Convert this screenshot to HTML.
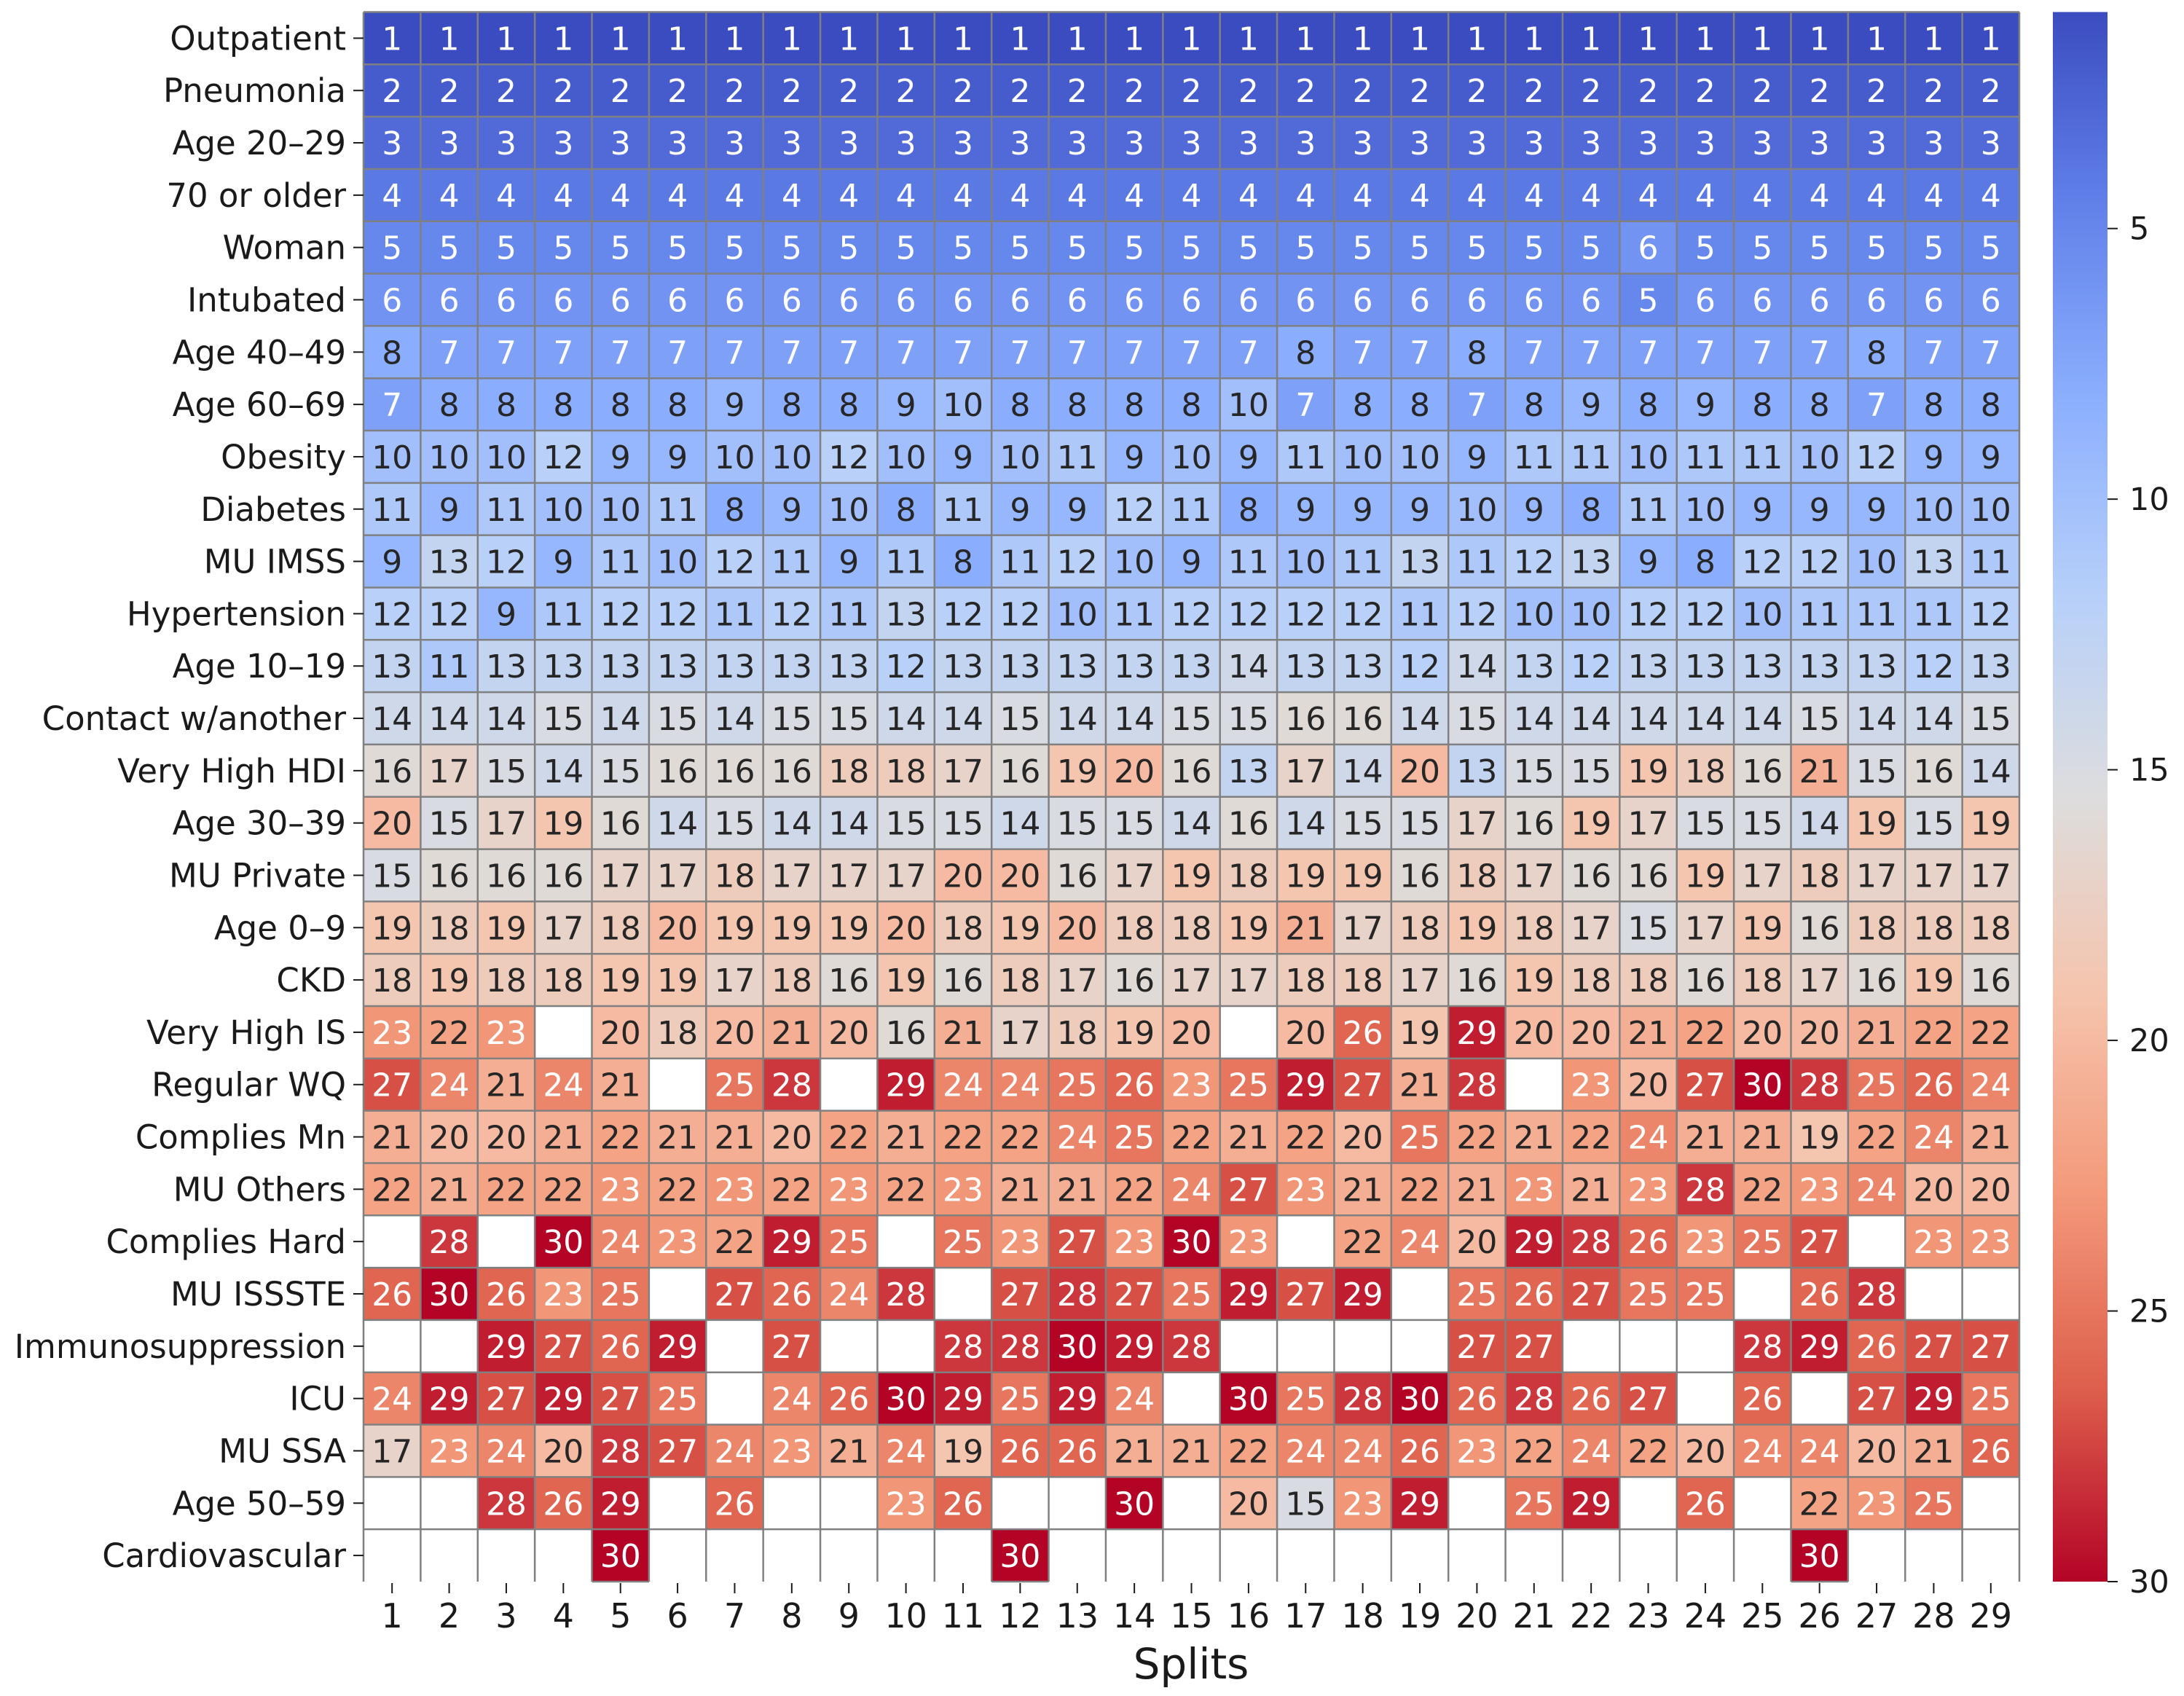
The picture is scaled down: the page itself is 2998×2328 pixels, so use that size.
<!DOCTYPE html>
<html><head><meta charset="utf-8">
<style>
html,body{margin:0;padding:0;background:#fff;}
svg{display:block;font-family:"DejaVu Sans","Liberation Sans",sans-serif;}
</style></head>
<body>
<svg id="chart" width="2998" height="2328" viewBox="0 0 2998 2328" xmlns="http://www.w3.org/2000/svg">
<defs><linearGradient id="cbgrad" x1="0" y1="0" x2="0" y2="1"></linearGradient></defs>
<g id="cells"></g>
<g id="grid"></g>
<g id="labels"></g>
<g id="yaxis"></g>
<g id="xaxis"></g>
<text x="1635" y="2304" font-size="58" text-anchor="middle" fill="#1a1a1a">Splits</text>
<g id="cbar"></g>
</svg>
<script>
const features = ["Outpatient","Pneumonia","Age 20–29","70 or older","Woman","Intubated","Age 40–49","Age 60–69","Obesity","Diabetes","MU IMSS","Hypertension","Age 10–19","Contact w/another","Very High HDI","Age 30–39","MU Private","Age 0–9","CKD","Very High IS","Regular WQ","Complies Mn","MU Others","Complies Hard","MU ISSSTE","Immunosuppression","ICU","MU SSA","Age 50–59","Cardiovascular"];
const splits = [1,2,3,4,5,6,7,8,9,10,11,12,13,14,15,16,17,18,19,20,21,22,23,24,25,26,27,28,29];
const cbTicks = [5,10,15,20,25,30];
const _ = null;
const rankOutpatient = [1,1,1,1,1,1,1,1,1,1,1,1,1,1,1,1,1,1,1,1,1,1,1,1,1,1,1,1,1];
const rankPneumonia = [2,2,2,2,2,2,2,2,2,2,2,2,2,2,2,2,2,2,2,2,2,2,2,2,2,2,2,2,2];
const rankAge2029 = [3,3,3,3,3,3,3,3,3,3,3,3,3,3,3,3,3,3,3,3,3,3,3,3,3,3,3,3,3];
const rank70plus = [4,4,4,4,4,4,4,4,4,4,4,4,4,4,4,4,4,4,4,4,4,4,4,4,4,4,4,4,4];
const rankWoman = [5,5,5,5,5,5,5,5,5,5,5,5,5,5,5,5,5,5,5,5,5,5,6,5,5,5,5,5,5];
const rankIntubated = [6,6,6,6,6,6,6,6,6,6,6,6,6,6,6,6,6,6,6,6,6,6,5,6,6,6,6,6,6];
const rankAge4049 = [8,7,7,7,7,7,7,7,7,7,7,7,7,7,7,7,8,7,7,8,7,7,7,7,7,7,8,7,7];
const rankAge6069 = [7,8,8,8,8,8,9,8,8,9,10,8,8,8,8,10,7,8,8,7,8,9,8,9,8,8,7,8,8];
const rankObesity = [10,10,10,12,9,9,10,10,12,10,9,10,11,9,10,9,11,10,10,9,11,11,10,11,11,10,12,9,9];
const rankDiabetes = [11,9,11,10,10,11,8,9,10,8,11,9,9,12,11,8,9,9,9,10,9,8,11,10,9,9,9,10,10];
const rankMuImss = [9,13,12,9,11,10,12,11,9,11,8,11,12,10,9,11,10,11,13,11,12,13,9,8,12,12,10,13,11];
const rankHypertension = [12,12,9,11,12,12,11,12,11,13,12,12,10,11,12,12,12,12,11,12,10,10,12,12,10,11,11,11,12];
const rankAge1019 = [13,11,13,13,13,13,13,13,13,12,13,13,13,13,13,14,13,13,12,14,13,12,13,13,13,13,13,12,13];
const rankContact = [14,14,14,15,14,15,14,15,15,14,14,15,14,14,15,15,16,16,14,15,14,14,14,14,14,15,14,14,15];
const rankHdi = [16,17,15,14,15,16,16,16,18,18,17,16,19,20,16,13,17,14,20,13,15,15,19,18,16,21,15,16,14];
const rankAge3039 = [20,15,17,19,16,14,15,14,14,15,15,14,15,15,14,16,14,15,15,17,16,19,17,15,15,14,19,15,19];
const rankMuPrivate = [15,16,16,16,17,17,18,17,17,17,20,20,16,17,19,18,19,19,16,18,17,16,16,19,17,18,17,17,17];
const rankAge09 = [19,18,19,17,18,20,19,19,19,20,18,19,20,18,18,19,21,17,18,19,18,17,15,17,19,16,18,18,18];
const rankCkd = [18,19,18,18,19,19,17,18,16,19,16,18,17,16,17,17,18,18,17,16,19,18,18,16,18,17,16,19,16];
const rankIs = [23,22,23,_,20,18,20,21,20,16,21,17,18,19,20,_,20,26,19,29,20,20,21,22,20,20,21,22,22];
const rankWq = [27,24,21,24,21,_,25,28,_,29,24,24,25,26,23,25,29,27,21,28,_,23,20,27,30,28,25,26,24];
const rankMn = [21,20,20,21,22,21,21,20,22,21,22,22,24,25,22,21,22,20,25,22,21,22,24,21,21,19,22,24,21];
const rankMuOthers = [22,21,22,22,23,22,23,22,23,22,23,21,21,22,24,27,23,21,22,21,23,21,23,28,22,23,24,20,20];
const rankHard = [_,28,_,30,24,23,22,29,25,_,25,23,27,23,30,23,_,22,24,20,29,28,26,23,25,27,_,23,23];
const rankIssste = [26,30,26,23,25,_,27,26,24,28,_,27,28,27,25,29,27,29,_,25,26,27,25,25,_,26,28,_,_];
const rankImmuno = [_,_,29,27,26,29,_,27,_,_,28,28,30,29,28,_,_,_,_,27,27,_,_,_,28,29,26,27,27];
const rankIcu = [24,29,27,29,27,25,_,24,26,30,29,25,29,24,_,30,25,28,30,26,28,26,27,_,26,_,27,29,25];
const rankSsa = [17,23,24,20,28,27,24,23,21,24,19,26,26,21,21,22,24,24,26,23,22,24,22,20,24,24,20,21,26];
const rankAge5059 = [_,_,28,26,29,_,26,_,_,23,26,_,_,30,_,20,15,23,29,_,25,29,_,26,_,22,23,25,_];
const rankCardio = [_,_,_,_,30,_,_,_,_,_,_,30,_,_,_,_,_,_,_,_,_,_,_,_,_,30,_,_,_];
const matrix = [rankOutpatient,rankPneumonia,rankAge2029,rank70plus,rankWoman,rankIntubated,rankAge4049,rankAge6069,rankObesity,rankDiabetes,rankMuImss,rankHypertension,rankAge1019,rankContact,rankHdi,rankAge3039,rankMuPrivate,rankAge09,rankCkd,rankIs,rankWq,rankMn,rankMuOthers,rankHard,rankIssste,rankImmuno,rankIcu,rankSsa,rankAge5059,rankCardio];
const vmin = 1, vmax = 30;

const NS = "http://www.w3.org/2000/svg";
const L = 499, R = 2772, T = 16.5, B = 2171;
const cw = (R - L) / splits.length, rh = (B - T) / features.length;
const xPos = i => L + i * cw;
const yPos = j => T + j * rh;
const cbX = 2818, cbW = 75;
const cbY = v => T + (v - vmin) / (vmax - vmin) * (B - T);

const cm = [[59,76,192],[98,130,234],[141,176,254],[184,208,249],[221,221,221],[245,196,173],[244,154,123],[222,96,77],[180,4,38]];
function cmap(t){
  t = Math.max(0, Math.min(1, t));
  const s = t * (cm.length - 1), i = Math.min(cm.length - 2, Math.floor(s)), f = s - i;
  return cm[i].map((c, k) => Math.round(c + (cm[i+1][k] - c) * f));
}
function mk(tag, attrs, parent){
  const e = document.createElementNS(NS, tag);
  for (const k in attrs) e.setAttribute(k, attrs[k]);
  parent.appendChild(e);
  return e;
}

const cells = document.getElementById('cells');
const labels = document.getElementById('labels');
matrix.forEach((row, j) => {
  row.forEach((v, i) => {
    if (v === null) return;
    const t01 = (v - vmin) / (vmax - vmin);
    const rgb = cmap(t01);
    const r = mk('rect', {x: xPos(i), y: yPos(j), width: cw, height: rh, fill: `rgb(${rgb})`}, cells);
    
    
    const light = (t01 < 0.22 || t01 > 0.74);
    const t = mk('text', {x: xPos(i) + cw / 2, y: yPos(j) + rh / 2 + 16, 'font-size': 44, 'text-anchor': 'middle', fill: light ? '#ffffff' : '#262626'}, labels);
    t.textContent = v;
    
    
  });
});

const grid = document.getElementById('grid');
for (let j = 0; j < features.length; j++) {
  mk('line', {x1: L, x2: R, y1: yPos(j), y2: yPos(j), stroke: '#808080', 'stroke-width': 2.5}, grid);
}
matrix[features.length - 1].forEach((v, i) => {
  if (v !== null) mk('line', {x1: xPos(i), x2: xPos(i+1), y1: B, y2: B, stroke: '#808080', 'stroke-width': 2.5}, grid);
});
for (let i = 0; i <= splits.length; i++) {
  mk('line', {x1: xPos(i), x2: xPos(i), y1: T, y2: B, stroke: '#808080', 'stroke-width': 2.5}, grid);
}

const yaxis = document.getElementById('yaxis');
features.forEach((f, j) => {
  const cy = yPos(j) + rh / 2;
  mk('line', {x1: L - 14, x2: L, y1: cy, y2: cy, stroke: '#1a1a1a', 'stroke-width': 2}, yaxis);
  const t = mk('text', {x: L - 24, y: cy + 16, 'font-size': 45, 'text-anchor': 'end', fill: '#1a1a1a'}, yaxis);
  t.textContent = f;
  
  
});

const xaxis = document.getElementById('xaxis');
splits.forEach((s, i) => {
  const cx = xPos(i) + cw / 2;
  mk('line', {x1: cx, x2: cx, y1: B + 2, y2: B + 16, stroke: '#1a1a1a', 'stroke-width': 2}, xaxis);
  const t = mk('text', {x: cx, y: B + 63, 'font-size': 46, 'text-anchor': 'middle', fill: '#1a1a1a'}, xaxis);
  t.textContent = s;
  
  
});

const grad = document.getElementById('cbgrad');
for (let k = 0; k <= 40; k++) {
  mk('stop', {offset: (k / 40), 'stop-color': `rgb(${cmap(k / 40)})`}, grad);
}
const cbar = document.getElementById('cbar');
const cbRect = mk('rect', {x: cbX, y: T, width: cbW, height: B - T, fill: 'url(#cbgrad)'}, cbar);


cbTicks.forEach(v => {
  const y = cbY(v);
  mk('line', {x1: cbX + cbW, x2: cbX + cbW + 14, y1: y, y2: y, stroke: '#1a1a1a', 'stroke-width': 2}, cbar);
  const t = mk('text', {x: cbX + cbW + 30, y: y + 15, 'font-size': 43, fill: '#1a1a1a'}, cbar);
  t.textContent = v;
  
  
});
</script>
</body></html>
